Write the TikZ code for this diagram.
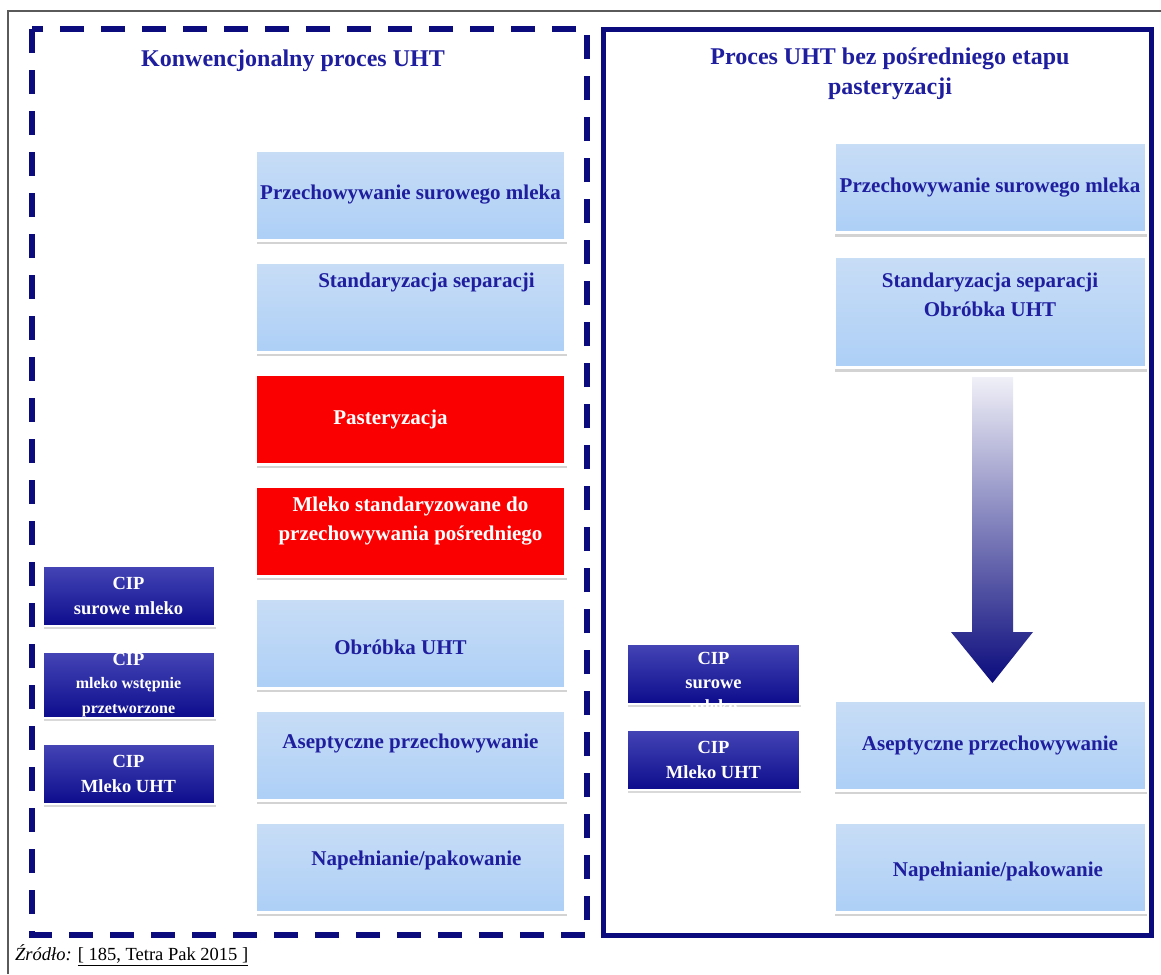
\documentclass[tikz,border=0pt]{standalone}
\usepackage{fontspec}
\setmainfont{Liberation Serif}
\usetikzlibrary{positioning, shadows}
\definecolor{uhtnavy}{HTML}{0B0B7D}
\definecolor{uhttext}{HTML}{1E1E9E}
\definecolor{uhtboxtop}{HTML}{C8DDF6}
\definecolor{uhtboxbot}{HTML}{ADCFF6}
\definecolor{uhtred}{HTML}{FA0000}
\definecolor{uhtciptop}{HTML}{4545B6}
\definecolor{uhtcipbot}{HTML}{0D0D8D}
\definecolor{uhtgray}{HTML}{5A5A5A}
\definecolor{uhtarrowtop}{HTML}{F0F0F8}
\definecolor{uhtarrowmid}{HTML}{4A4AB0}
\newcommand{\cipsmall}{\fontsize{16}{21}\selectfont}

\begin{document}
\begin{tikzpicture}[
    x=1pt, y=-1pt,
    node distance=19pt,
    title/.style={font=\bfseries\fontsize{24}{30}\selectfont, text=uhttext, align=center},
    stage/.style={draw=white, line width=3pt, top color=uhtboxtop, bottom color=uhtboxbot,
      minimum width=310pt, minimum height=90pt, inner sep=1pt,
      font=\bfseries\fontsize{21}{29}\selectfont, text=uhttext, align=center,
      drop shadow={shadow xshift=1pt, shadow yshift=-4pt, opacity=0.35}},
    hot/.style={stage, top color=uhtred, bottom color=uhtred},
    stagetxt/.style={font=\bfseries\fontsize{21}{29}\selectfont, text=uhttext, align=center, inner sep=1pt},
    hottxt/.style={stagetxt, text=white},
    cip/.style={draw=white, line width=2pt, top color=uhtciptop, bottom color=uhtcipbot,
      minimum width=172pt, minimum height=60pt, inner sep=1pt,
      font=\bfseries\fontsize{18.5}{25}\selectfont, text=white, align=center,
      drop shadow={shadow xshift=1pt, shadow yshift=-3pt, opacity=0.3}},
    ciptxt/.style={font=\bfseries\fontsize{18.5}{24}\selectfont, text=white, align=center, inner sep=1pt}
  ]
  \useasboundingbox (0,0) rectangle (1161,974);

  % frames
  \draw[uhtgray, line width=1.2pt] (8,974) -- (8,11) -- (1161,11);
  \draw[uhtnavy, line width=6pt, dash pattern=on 24pt off 17pt] (32,29) rectangle (587,935);
  \draw[uhtnavy, line width=5pt] (603,30) rectangle (1151,935);

  \node[title] (convtitle) at (293,61) {Konwencjonalny proces UHT};
  \node[title] (directtitle) at (890,74) {Proces UHT bez pośredniego etapu\\pasteryzacji};

  % conventional line
  \node[stage] (raw) at (410.5,195) {Przechowywanie surowego mleka};
  \node[stage, below=of raw,
    label={[stagetxt, xshift=16pt, yshift=25pt]center:Standaryzacja separacji}] (sep) {};
  \node[hot, below=of sep,
    label={[hottxt, xshift=-20pt]center:Pasteryzacja}] (past) {};
  \node[hot, below=of past,
    label={[hottxt, yshift=10pt]center:Mleko standaryzowane do\\przechowywania pośredniego}] (buffer) {};
  \node[stage, below=of buffer,
    label={[stagetxt, xshift=-10pt, yshift=-4pt]center:Obróbka UHT}] (uht) {};
  \node[stage, below=of uht,
    label={[stagetxt, yshift=12pt]center:Aseptyczne przechowywanie}] (asep) {};
  \node[stage, below=of asep,
    label={[stagetxt, xshift=6pt, yshift=7pt]center:Napełnianie/pakowanie}] (pack) {};

  \node[cip] (cipraw) at (128.5,596) {CIP\\surowe mleko};
  \node[cip, below=24pt of cipraw] (cippre)
    {CIP\\[-2pt]\cipsmall mleko wstępnie\\\cipsmall przetworzone};
  \node[cip, below=24pt of cippre] (cipuht) {CIP\\Mleko UHT};

  % direct line
  \node[stage, minimum width=312pt] (rraw) at (990,187.5) {Przechowywanie surowego mleka};
  \node[stage, minimum width=312pt, minimum height=111pt, below=21pt of rraw,
    label={[stagetxt, yshift=17pt]center:Standaryzacja separacji\\Obróbka UHT}] (rsep) {};
  \node[stage, minimum width=312pt,
    label={[stagetxt, xshift=8pt, yshift=-4pt]center:Napełnianie/pakowanie}] (rpack) at (pack -| rraw) {};
  \node[stage, minimum width=312pt, above=29pt of rpack] (rasep) {Aseptyczne przechowywanie};

  \node[cip, minimum width=173pt,
    label={[ciptxt, yshift=-9pt]center:CIP\\surowe\\mleko}] (rcipraw) at (713.5,673.5) {};
  \node[cip, minimum width=173pt, below=24pt of rcipraw] (rcipuht) {CIP\\Mleko UHT};

  % flow arrow
  \coordinate (flowtop) at (992.5,377);
  \coordinate (flowtip) at (992.5,683);
  \shade[top color=uhtarrowtop, middle color=uhtarrowmid, bottom color=uhtnavy]
    (flowtop) ++(-20.5,0) -- ++(41,0) -- ++(0,255) -- ++(20,0) -- (flowtip)
    -- ++(-41.5,-51) -- ++(21,0) -- cycle;

  \node[anchor=west, inner sep=0pt, font=\fontsize{18.5}{22}\selectfont] (source) at (15,955)
    {\textit{Źródło:} \underline{[ 185, Tetra Pak 2015 ]}};
\end{tikzpicture}
\end{document}
